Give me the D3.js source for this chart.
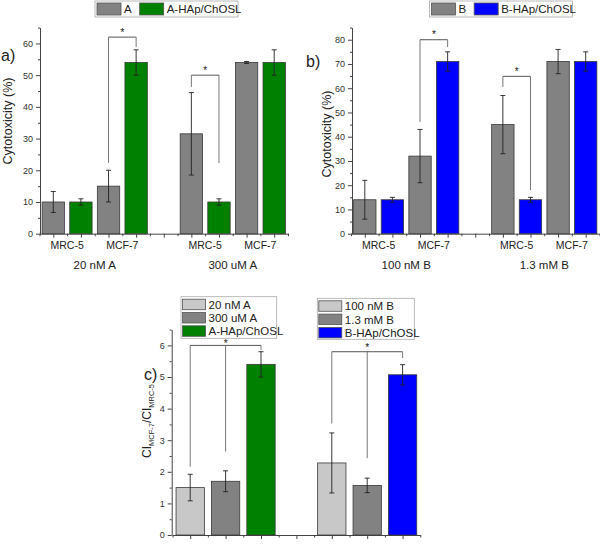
<!DOCTYPE html>
<html><head><meta charset="utf-8">
<script src="https://cdn.jsdelivr.net/npm/d3@7"></script>
<style>body{margin:0;background:#fff} svg{display:block;font-family:"Liberation Sans",Arial,sans-serif}</style>
</head><body><svg id="chart" width="600" height="544"></svg>
<script>
// ---------- data ----------
const cellLines = ["MRC-5", "MCF-7"];
const groupsA = ["20 nM A", "300 uM A"];
const seriesA = ["A", "A-HAp/ChOSL"];
const drugA = [10, 15, 31.5, 54];        // order: g0 MRC-5, g0 MCF-7, g1 MRC-5, g1 MCF-7
const drugAErr = [3.3, 5, 13, 0.3];
const hapA = [10, 54, 10, 54];
const hapAErr = [1, 4, 1, 4];
const bracketsA = [[2, 3, 62, 22.3, 58.9], [5, 6, 50, 46.3, 22.3]];
const yTicksA = [0, 10, 20, 30, 40, 50, 60];

const groupsB = ["100 nM B", "1.3 mM B"];
const seriesB = ["B", "B-HAp/ChOSL"];
const drugB = [14, 32, 45, 71];
const drugBErr = [8, 11, 12, 5];
const hapB = [14, 71, 14, 71];
const hapBErr = [1, 4, 1, 4];
const bracketsB = [[2, 3, 80, 46.1, 77], [5, 6, 64.9, 60.5, 18]];
const yTicksB = [0, 10, 20, 30, 40, 50, 60, 70, 80];

const ciLabelsA = ["20 nM A", "300 uM A", "A-HAp/ChOSL"];
const ciValuesA = [1.5, 1.7, 5.4];
const ciErrA = [0.42, 0.33, 0.4];
const ciLabelsB = ["100 nM B", "1.3 mM B", "B-HAp/ChOSL"];
const ciValuesB = [2.28, 1.57, 5.07];
const ciErrB = [0.95, 0.23, 0.32];
const yTicksC = [0, 1, 2, 3, 4, 5, 6];

// ---------- style ----------
const GRAY = "#828282", LIGHT = "#c8c8c8", GREEN = "#008000", BLUE = "#0000ff";
const AX = "#444", TXT = "#222";
const svg = d3.select("#chart");

function drawYAxis(g, y, x0, major, minorStep, max) {
  const minor = d3.range(0, max + 1e-9, minorStep).filter(v => !major.some(m => Math.abs(m - v) < 1e-9));
  const ax = g.append("g").attr("transform", `translate(${x0},0)`)
    .call(d3.axisLeft(y).tickValues(major).tickFormat(d3.format("d")).tickSize(4).tickSizeOuter(0).tickPadding(3));
  ax.select(".domain").attr("stroke", AX);
  ax.selectAll(".tick line").attr("stroke", AX);
  ax.selectAll(".tick text").attr("fill", "#333").style("font-size", "9px").style("font-family", "inherit");
  const mn = g.append("g").attr("transform", `translate(${x0},0)`)
    .call(d3.axisLeft(y).tickValues(minor).tickSize(2).tickFormat(""));
  mn.select(".domain").remove();
  mn.selectAll(".tick line").attr("stroke", AX);
}

function drawXAxis(g, xl, yb, n) {
  const centers = d3.range(n).map(i => i + 0.5);
  const bounds = d3.range(n + 1);
  const ax = g.append("g").attr("transform", `translate(0,${yb})`)
    .call(d3.axisBottom(xl).tickValues(centers).tickSize(4).tickFormat("").tickSizeOuter(0));
  ax.select(".domain").attr("stroke", AX);
  ax.selectAll(".tick line").attr("stroke", AX);
  const mn = g.append("g").attr("transform", `translate(0,${yb})`)
    .call(d3.axisBottom(xl).tickValues(bounds).tickSize(2.5).tickFormat(""));
  mn.select(".domain").remove();
  mn.selectAll(".tick line").attr("stroke", AX);
}

function drawBars(g, xl, y, items, frac) {
  const pad = (1 - frac) / 2;
  g.selectAll(null).data(items).enter().append("rect")
    .attr("x", d => xl(d.slot + pad)).attr("width", d => xl(d.slot + 1 - pad) - xl(d.slot + pad))
    .attr("y", d => y(d.v)).attr("height", d => y(0) - y(d.v))
    .attr("fill", d => d.color).attr("stroke", "#3a3a3a").attr("stroke-width", 0.8);
  const eb = g.selectAll(null).data(items).enter().append("g")
    .attr("stroke", "#222").attr("stroke-width", 0.9);
  eb.append("line").attr("x1", d => xl(d.slot + 0.5)).attr("x2", d => xl(d.slot + 0.5))
    .attr("y1", d => y(d.v - d.e)).attr("y2", d => y(d.v + d.e));
  [-1, 1].forEach(s => {
    eb.append("line").attr("x1", d => xl(d.slot + 0.5) - 2.5).attr("x2", d => xl(d.slot + 0.5) + 2.5)
      .attr("y1", d => y(d.v + s * d.e)).attr("y2", d => y(d.v + s * d.e));
  });
}

function drawBracket(g, xl, y, slots, level, ends, starIdx, starDy) {
  const xs = slots.map(s => xl(s + 0.5));
  g.append("line").attr("x1", xs[0]).attr("x2", xs[xs.length - 1])
    .attr("y1", y(level)).attr("y2", y(level)).attr("stroke", "#555").attr("stroke-width", 1);
  xs.forEach((x, i) => {
    g.append("line").attr("x1", x).attr("x2", x).attr("y1", y(level)).attr("y2", y(ends[i]))
      .attr("stroke", "#777").attr("stroke-width", 1);
  });
  const sx = starIdx != null ? xs[starIdx] : (xs[0] + xs[xs.length - 1]) / 2;
  g.append("text").attr("x", sx).attr("y", y(level) + (starDy || -1.5)).attr("text-anchor", "middle")
    .style("font-size", "10px").attr("fill", "#111").text("*");
}

function legendRow(g, x, y, w, h, items) {
  let cx = x;
  items.forEach(it => {
    g.append("rect").attr("x", cx).attr("y", y).attr("width", w).attr("height", h)
      .attr("fill", it.color).attr("stroke", "#555").attr("stroke-width", 0.8);
    const t = g.append("text").attr("x", cx + w + 3).attr("y", y + h - 2)
      .style("font-size", "11.5px").attr("fill", TXT).text(it.label);
    cx += w + 3 + t.node().getComputedTextLength() + 8;
  });
}

function panelTop(opts) {
  const g = svg.append("g");
  const y = d3.scaleLinear().domain([0, opts.ymax]).range([233.7, 27.6]);
  const xl = d3.scaleLinear().domain([0, 9]).range(opts.xr);
  drawYAxis(g, y, opts.axisX, opts.yTicks, 5, opts.ymax);
  drawXAxis(g, xl, 233.7, 9);
  const items = [];
  opts.drug.forEach((v, i) => {
    const gi = Math.floor(i / 2), ci = i % 2;
    const slot = gi * 5 + ci * 2;
    items.push({slot, v, e: opts.drugErr[i], color: GRAY});
    items.push({slot: slot + 1, v: opts.hap[i], e: opts.hapErr[i], color: opts.color});
  });
  drawBars(g, xl, y, items, 0.81);
  opts.brackets.forEach(b => drawBracket(g, xl, y, [b[0], b[1]], b[2], [b[3], b[4]]));
  opts.groups.forEach((grp, gi) => {
    cellLines.forEach((cl, ci) => {
      g.append("text").attr("x", xl(gi * 5 + ci * 2 + 1)).attr("y", 249).attr("text-anchor", "middle")
        .style("font-size", "10.5px").attr("fill", TXT).text(cl);
    });
    g.append("text").attr("x", xl(gi * 5 + 2)).attr("y", 269).attr("text-anchor", "middle")
      .style("font-size", "11.5px").attr("fill", TXT).text(grp);
  });
  g.append("text").attr("transform", `translate(${opts.ylabX},${opts.ylabY}) rotate(-90)`)
    .attr("text-anchor", "middle").style("font-size", "12.5px").attr("fill", TXT).text("Cytotoxicity (%)");
  g.append("text").attr("x", opts.tagX).attr("y", opts.tagY).style("font-size", "16px").attr("fill", TXT).text(opts.tag);
  g.append("rect").attr("x", opts.leg[0]).attr("y", 1).attr("width", opts.leg[1]).attr("height", 16)
    .attr("fill", "#fff").attr("stroke", "#aaa").attr("stroke-width", 0.8);
  legendRow(g, opts.leg[0] + 2, 3, 24, 12, [
    {label: opts.series[0], color: GRAY}, {label: opts.series[1], color: opts.color}]);
}

panelTop({ymax: 65, yTicks: yTicksA, xr: [39.5, 288], axisX: 40, drug: drugA, drugErr: drugAErr,
  hap: hapA, hapErr: hapAErr, color: GREEN, brackets: bracketsA, groups: groupsA, series: seriesA,
  ylabX: 12, ylabY: 121, tagX: 1, tagY: 61, tag: "a)", leg: [95, 143]});
panelTop({ymax: 85, yTicks: yTicksB, xr: [351, 599.5], axisX: 352, drug: drugB, drugErr: drugBErr,
  hap: hapB, hapErr: hapBErr, color: BLUE, brackets: bracketsB, groups: groupsB, series: seriesB,
  ylabX: 331, ylabY: 134, tagX: 306, tagY: 67, tag: "b)", leg: [429.5, 143]});

// ---------- panel c ----------
(function () {
  const g = svg.append("g");
  const y = d3.scaleLinear().domain([0, 6.5]).range([535, 329.6]);
  const xl = d3.scaleLinear().domain([0, 7]).range([172.5, 420.3]);
  drawYAxis(g, y, 171.7, yTicksC, 0.5, 6.5);
  drawXAxis(g, xl, 535, 7);
  const colsA = [LIGHT, GRAY, GREEN], colsB = [LIGHT, GRAY, BLUE];
  const items = [];
  ciValuesA.forEach((v, i) => items.push({slot: i, v, e: ciErrA[i], color: colsA[i]}));
  ciValuesB.forEach((v, i) => items.push({slot: 4 + i, v, e: ciErrB[i], color: colsB[i]}));
  drawBars(g, xl, y, items, 0.8);
  function vlegend(x, y0, w, h, labels, cols) {
    g.append("rect").attr("x", x).attr("y", y0).attr("width", w).attr("height", h)
      .attr("fill", "#fff").attr("stroke", "#aaa").attr("stroke-width", 0.8);
    labels.forEach((lb, i) => {
      g.append("rect").attr("x", x + 1.5).attr("y", y0 + 2.5 + i * 13.3).attr("width", 23).attr("height", 10.5)
        .attr("fill", cols[i]).attr("stroke", "#555").attr("stroke-width", 0.8);
      g.append("text").attr("x", x + 27.5).attr("y", y0 + 12 + i * 13.3)
        .style("font-size", "11.5px").attr("fill", TXT).text(lb);
    });
  }
  vlegend(181, 296.7, 95.7, 41.6, ciLabelsA, colsA);
  vlegend(317.3, 298.3, 97, 41, ciLabelsB, colsB);
  drawBracket(g, xl, y, [0, 1, 2], 6.0, [2.16, 2.64, 5.85], 1, 1.5);
  drawBracket(g, xl, y, [4, 5, 6], 5.8, [3.53, 2.43, 5.6], 1, -0.5);
  const t = g.append("text").attr("transform", "translate(151,421) rotate(-90)")
    .attr("text-anchor", "middle").attr("fill", TXT).style("font-size", "12px");
  t.append("tspan").text("CI");
  t.append("tspan").attr("dy", 3).style("font-size", "7.5px").text("MCF-7");
  t.append("tspan").attr("dy", -3).text("/CI");
  t.append("tspan").attr("dy", 3).style("font-size", "7.5px").text("MRC-5");
  g.append("text").attr("x", 144).attr("y", 380).style("font-size", "16px").attr("fill", TXT).text("c)");
})();
</script></body></html>
